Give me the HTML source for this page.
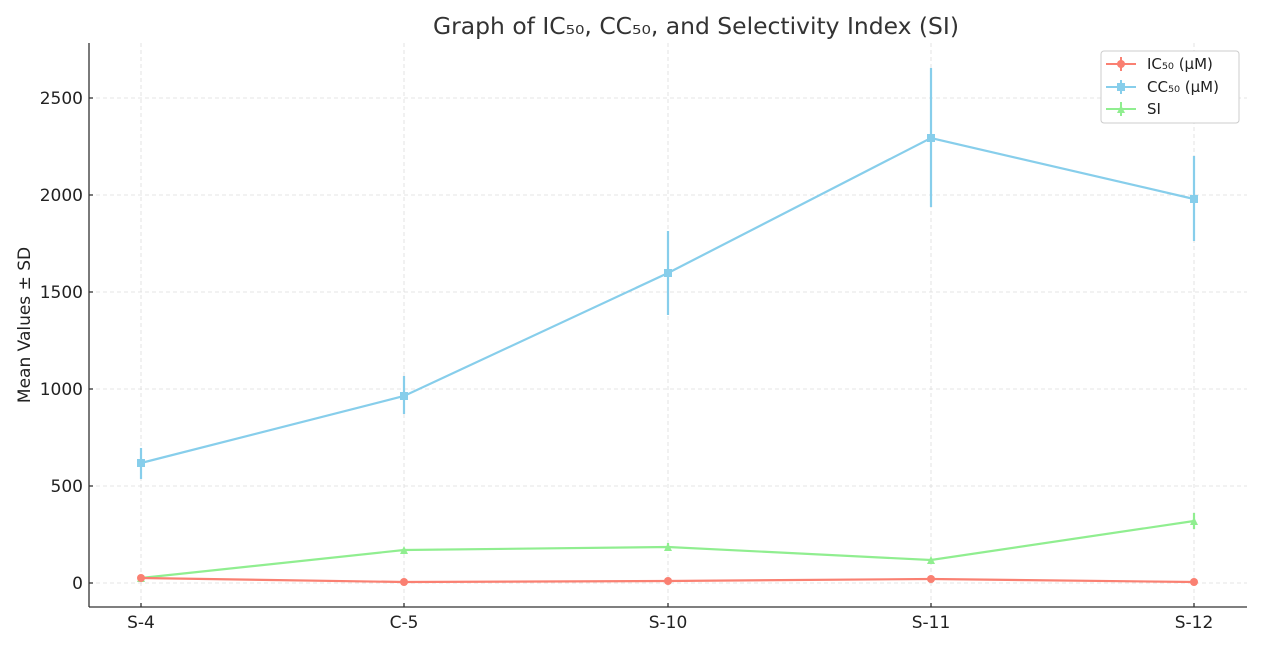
<!DOCTYPE html>
<html><head><meta charset="utf-8"><style>body{margin:0;background:#fff}svg{display:block;font-family:"DejaVu Sans","Liberation Sans",sans-serif}</style></head><body>
<svg width="1263" height="647" viewBox="0 0 1263 647">
<text x="696" y="34" font-size="22.7" fill="#333" text-anchor="middle" textLength="526" lengthAdjust="spacingAndGlyphs">Graph of IC₅₀, CC₅₀, and Selectivity Index (SI)</text>
<g stroke="#ddd" stroke-width="0.8" stroke-dasharray="4,3">
<line x1="141" y1="43" x2="141" y2="607"/><line x1="404" y1="43" x2="404" y2="607"/><line x1="668" y1="43" x2="668" y2="607"/><line x1="931" y1="43" x2="931" y2="607"/><line x1="1194" y1="43" x2="1194" y2="607"/>
<line x1="89" y1="583" x2="1247" y2="583"/><line x1="89" y1="486" x2="1247" y2="486"/><line x1="89" y1="389" x2="1247" y2="389"/><line x1="89" y1="292" x2="1247" y2="292"/><line x1="89" y1="195" x2="1247" y2="195"/><line x1="89" y1="98" x2="1247" y2="98"/>
</g>
<g stroke="#333" stroke-width="1.3"><line x1="89" y1="43" x2="89" y2="607"/><line x1="89" y1="607" x2="1247" y2="607"/>
<line x1="89" y1="583" x2="93" y2="583"/><line x1="89" y1="486" x2="93" y2="486"/><line x1="89" y1="389" x2="93" y2="389"/><line x1="89" y1="292" x2="93" y2="292"/><line x1="89" y1="195" x2="93" y2="195"/><line x1="89" y1="98" x2="93" y2="98"/>
<line x1="141" y1="607" x2="141" y2="603"/><line x1="404" y1="607" x2="404" y2="603"/><line x1="668" y1="607" x2="668" y2="603"/><line x1="931" y1="607" x2="931" y2="603"/><line x1="1194" y1="607" x2="1194" y2="603"/></g>
<g font-size="17" fill="#222" text-anchor="end"><text x="83" y="589">0</text><text x="83" y="492">500</text><text x="83" y="395">1000</text><text x="83" y="298">1500</text><text x="83" y="201">2000</text><text x="83" y="104">2500</text></g>
<g font-size="17" fill="#222" text-anchor="middle"><text x="141" y="628">S-4</text><text x="404" y="628">C-5</text><text x="668" y="628">S-10</text><text x="931" y="628">S-11</text><text x="1194" y="628">S-12</text></g>
<text transform="translate(30,325) rotate(-90)" font-size="17" fill="#222" text-anchor="middle">Mean Values ± SD</text>
<g stroke="#87ceeb" stroke-width="2.2" fill="#87ceeb">
<polyline fill="none" points="141,463 404,396 668,273 931,138 1194,199"/>
<line x1="141" y1="448" x2="141" y2="479"/><line x1="404" y1="376" x2="404" y2="414"/><line x1="668" y1="231" x2="668" y2="315"/><line x1="931" y1="68" x2="931" y2="207"/><line x1="1194" y1="156" x2="1194" y2="241"/>
<rect x="137" y="459" width="8" height="8" stroke="none"/><rect x="400" y="392" width="8" height="8" stroke="none"/><rect x="664" y="269" width="8" height="8" stroke="none"/><rect x="927" y="134" width="8" height="8" stroke="none"/><rect x="1190" y="195" width="8" height="8" stroke="none"/>
</g>
<g stroke="#90ee90" stroke-width="2.2" fill="#90ee90">
<polyline fill="none" points="141,578 404,550 668,547 931,560 1194,521"/>
<line x1="1194" y1="513" x2="1194" y2="529"/><line x1="668" y1="543" x2="668" y2="551"/>
<polygon stroke="none" points="141,574 145,582 137,582"/><polygon stroke="none" points="404,546 408,554 400,554"/><polygon stroke="none" points="668,543 672,551 664,551"/><polygon stroke="none" points="931,556 935,564 927,564"/><polygon stroke="none" points="1194,517 1198,525 1190,525"/>
</g>
<g stroke="#fa8072" stroke-width="2.2" fill="#fa8072">
<polyline fill="none" points="141,578 404,582 668,581 931,579 1194,582"/>
<circle cx="141" cy="578" r="4" stroke="none"/><circle cx="404" cy="582" r="4" stroke="none"/><circle cx="668" cy="581" r="4" stroke="none"/><circle cx="931" cy="579" r="4" stroke="none"/><circle cx="1194" cy="582" r="4" stroke="none"/>
</g>
<rect x="1101" y="51" width="138" height="72" rx="3" fill="#fff" stroke="#ccc"/>
<g stroke-width="2">
<line x1="1106" y1="64" x2="1136" y2="64" stroke="#fa8072"/><circle cx="1121" cy="64" r="4" fill="#fa8072"/><line x1="1121" y1="57" x2="1121" y2="71" stroke="#fa8072"/>
<line x1="1106" y1="87" x2="1136" y2="87" stroke="#87ceeb"/><rect x="1117" y="83" width="8" height="8" fill="#87ceeb"/><line x1="1121" y1="80" x2="1121" y2="94" stroke="#87ceeb"/>
<line x1="1106" y1="109" x2="1136" y2="109" stroke="#90ee90"/><polygon points="1121,105 1125,113 1117,113" fill="#90ee90"/><line x1="1121" y1="102" x2="1121" y2="116" stroke="#90ee90"/>
</g>
<g font-size="15" fill="#222"><text x="1147" y="69">IC₅₀ (μM)</text><text x="1147" y="92">CC₅₀ (μM)</text><text x="1147" y="114">SI</text></g>
</svg>
</body></html>
